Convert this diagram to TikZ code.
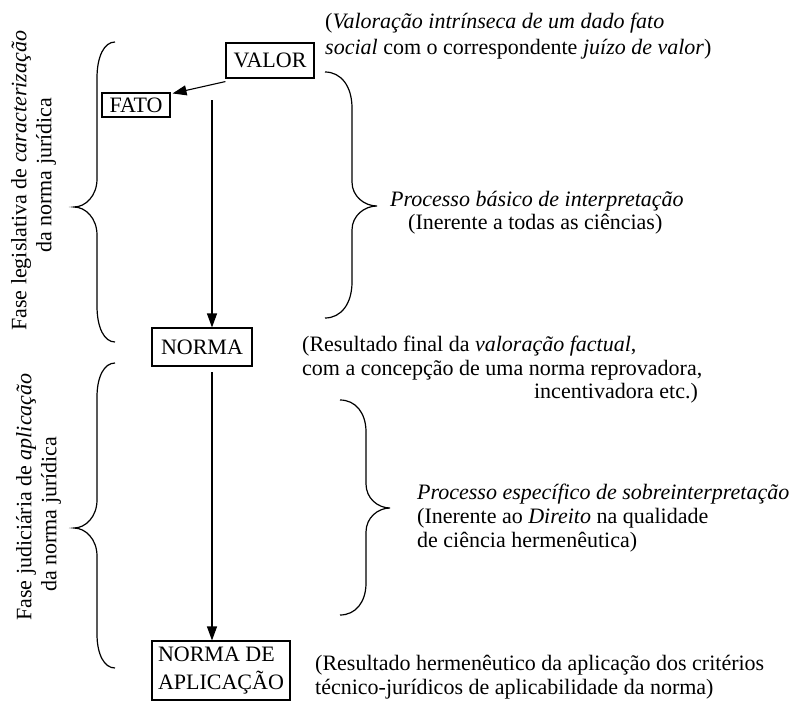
\documentclass[tikz,border=0pt]{standalone}
\usepackage{fontspec}
\setmainfont{Liberation Serif}
\usetikzlibrary{arrows.meta}
% xe, ytop, ybot, xtip, ytip, xv, r1 (end curl), r2 (tip curl)
\newcommand\drawbrace[8]{%
  \draw[bracestyle] (#1,#2) .. controls ({#1+0.6*(#6-#1)},#2) and (#6,{#2+0.4*#7}) .. (#6,{#2+#7})
    -- (#6,{#5-#8}) .. controls (#6,{#5-0.4*#8}) and ({#4+0.5*(#6-#4)},#5) .. (#4,#5)
    .. controls ({#4+0.5*(#6-#4)},#5) and (#6,{#5+0.4*#8}) .. (#6,{#5+#8})
    -- (#6,{#3-#7}) .. controls (#6,{#3-0.4*#7}) and ({#1+0.6*(#6-#1)},#3) .. (#1,#3);}
\begin{document}
\begin{tikzpicture}[x=1pt,y=-1pt,
  every node/.style={font=\fontsize{22}{24}\selectfont},
  box/.style={draw,line width=1.1pt,inner sep=0pt},
  txt/.style={inner sep=0pt,anchor=base west},
  txtr/.style={inner sep=0pt,anchor=base east},
  side/.style={inner sep=0pt,anchor=west,rotate=90,font=\fontsize{22}{24}\selectfont},
  arr/.style={line width=1.1pt,-{Triangle[length=14pt,width=10pt]}},
  bracestyle/.style={line width=1.2pt}]
\useasboundingbox (0,0) rectangle (802,701);

% boxes
\node[box,minimum width=88pt,minimum height=35pt] (valor) at (270,60.5) {VALOR};
\node[box,minimum width=68pt,minimum height=24pt] (fato) at (136,105) {FATO};
\node[box,minimum width=100pt,minimum height=38pt] (norma) at (202,347) {NORMA};
\node[box,minimum width=138pt,minimum height=59pt,align=left,
      font=\fontsize{22}{28}\selectfont] (nda) at (221,670.5) {NORMA DE\\APLICAÇÃO};

% connectors
\coordinate (s1) at (212,100);
\coordinate (s2) at (212,372);
\draw[arr] ([yshift=-3pt]valor.south west) -- ([xshift=2pt,yshift=-1pt]fato.north east);
\draw[arr] (s1) -- (s1 |- norma.north);
\draw[arr] (s2) -- (s2 |- nda.north);

% braces
\drawbrace{115}{42}{342}{74}{207}{97}{36}{28}
\drawbrace{115}{363}{668}{74}{528}{97}{34}{28}
\drawbrace{325}{72}{318}{377}{206}{352}{36}{24}
\drawbrace{340}{400}{615}{390}{508}{366}{32}{24}

% side texts
\node[side] (l1a) at (21,331) {Fase legislativa de \textit{caracterização}};
\node[side] (l1b) at (46,253) {da norma jurídica};
\node[side] (l2a) at (26,621) {Fase judiciária de \textit{aplicação}};
\node[side] (l2b) at (51,592) {da norma jurídica};

% annotations
\node[txt] (t1a) at (325,29) {(\textit{Valoração intrínseca de um dado fato}};
\node[txt] (t1b) at (325,55) {\textit{social} com o correspondente \textit{juízo de valor})};
\node[txt] (p1a) at (390,206) {\textit{Processo básico de interpretação}};
\node[txt] (p1b) at (408,229) {(Inerente a todas as ciências)};
\node[txt] (r1a) at (302,351) {(Resultado final da \textit{valoração factual},};
\node[txt] (r1b) at (302,375) {com a concepção de uma norma reprovadora,};
\node[txtr] (r1c) at (698,398) {incentivadora etc.)};
\node[txt] (p2a) at (417,499) {\textit{Processo específico de sobreinterpretação}};
\node[txt] (p2b) at (417,523) {(Inerente ao \textit{Direito} na qualidade};
\node[txt] (p2c) at (417,547) {de ciência hermenêutica)};
\node[txt] (r2a) at (315,670) {(Resultado hermenêutico da aplicação dos critérios};
\node[txt] (r2b) at (315,694) {técnico-jurídicos de aplicabilidade da norma)};
\end{tikzpicture}
\end{document}
